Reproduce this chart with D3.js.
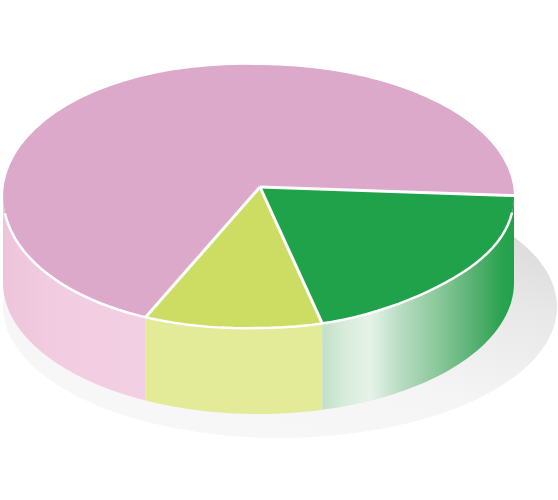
<!DOCTYPE html>
<html>
  <head>
    <title>3D Pie</title>
    <style>
      body { margin: 0; background: #fff; }
      svg { display: block; }
    </style>
  </head>

  <body>
    <svg id='chart'></svg>

    <script src="https://d3js.org/d3.v7.min.js" type="text/javascript"></script>
    <script>

const categories = ['Green', 'Yellow', 'Pink'];
const shares = [21.1, 11.3, 67.6];
const topColors = ['#1fa24a', '#cddc62', '#dda9ca'];
const wallColors = ['url(#greenWall)', '#e3ea98', 'url(#pinkWall)'];

const width = 558, height = 500;
const depth = 86;
const firstAngle = 89.6 * Math.PI / 180;

// ellipse of the top face, -1..1 unit circle goes through these
const x = d3.scaleLinear().domain([-1, 1]).range([3, 514]);
const y = d3.scaleLinear().domain([-1, 1]).range([65, 328]);
const apex = [260, 187];

// the drawn disc is not a clean ellipse, left side bulges a little
function warp(a) {
  const t = ((a % (2 * Math.PI)) + 2 * Math.PI) % (2 * Math.PI);
  if (t < Math.PI / 2) return 0;
  const s = Math.sin(2 * t);
  return 3.5 * (t < Math.PI ? s * s * s : s);
}

const base = (a) => [x(Math.sin(a)), y(-Math.cos(a))];
const rim = (a) => [x(Math.sin(a)), y(-Math.cos(a)) + warp(a)];
const arcPoints = (f, a0, a1) => d3.range(0, 61).map(i => f(a0 + (a1 - a0) * i / 60));
const line = d3.line();

const slices = d3.pie().sort(null)
  .startAngle(firstAngle)
  .endAngle(firstAngle + 2 * Math.PI)(shares);

const svg = d3.select('#chart')
  .attr('width', width)
  .attr('height', height);

const defs = svg.append('defs');

function gradient(id, attrs, stops) {
  const g = defs.append('linearGradient').attr('id', id);
  Object.keys(attrs).forEach(k => g.attr(k, attrs[k]));
  stops.forEach(s => g.append('stop').attr('offset', s[0]).attr('stop-color', s[1]));
}

gradient('shadow', {x1: '0.92', y1: '0.1', x2: '0.45', y2: '1'},
  [[0, '#d6d6d6'], [0.35, '#e8e8e8'], [0.7, '#f5f5f6'], [1, '#f7f7f8']]);

gradient('greenWall', {gradientUnits: 'userSpaceOnUse', x1: 322, y1: 0, x2: 514, y2: 0},
  [[0, '#bfe0c8'], [0.12, '#d8ecdb'], [0.25, '#e6f3e8'], [0.42, '#b5dbbf'], [0.62, '#86c697'],
   [0.82, '#4fae6c'], [0.93, '#2ba350'], [1, '#21a14a']]);

gradient('pinkWall', {gradientUnits: 'userSpaceOnUse', x1: 3, y1: 0, x2: 145, y2: 0},
  [[0, '#eec4da'], [0.4, '#f2cde2'], [1, '#f3cfe3']]);

// shadow under the pie
svg.append('ellipse')
  .attr('cx', 280)
  .attr('cy', 307)
  .attr('rx', 277)
  .attr('ry', 131)
  .style('fill', 'url(#shadow)');

// side wall, only the part facing us
slices.forEach((s, i) => {
  const a0 = Math.max(s.startAngle, Math.PI / 2);
  const a1 = Math.min(s.endAngle, 3 * Math.PI / 2);
  if (a1 <= a0) return;
  const upper = arcPoints(rim, a0, a1);
  const lower = arcPoints(base, a0, a1).map(p => [p[0], p[1] + depth]).reverse();
  svg.append('path')
    .attr('d', line(upper.concat(lower)) + 'Z')
    .style('fill', wallColors[i]);
});

// top face
slices.forEach((s, i) => {
  svg.append('path')
    .attr('d', line([apex].concat(arcPoints(rim, s.startAngle, s.endAngle))) + 'Z')
    .style('fill', topColors[i]);
});

// white separators
slices.forEach((s) => {
  svg.append('path')
    .attr('d', line([apex, rim(s.startAngle)]))
    .style('fill', 'none')
    .style('stroke', '#fff')
    .style('stroke-width', 3);
});

// white rim on the front edge
svg.append('path')
  .attr('d', line(arcPoints(rim, 97 * Math.PI / 180, 263 * Math.PI / 180)))
  .style('fill', 'none')
  .style('stroke', '#fff')
  .style('stroke-width', 2.5);

</script>
  </body>
</html>
